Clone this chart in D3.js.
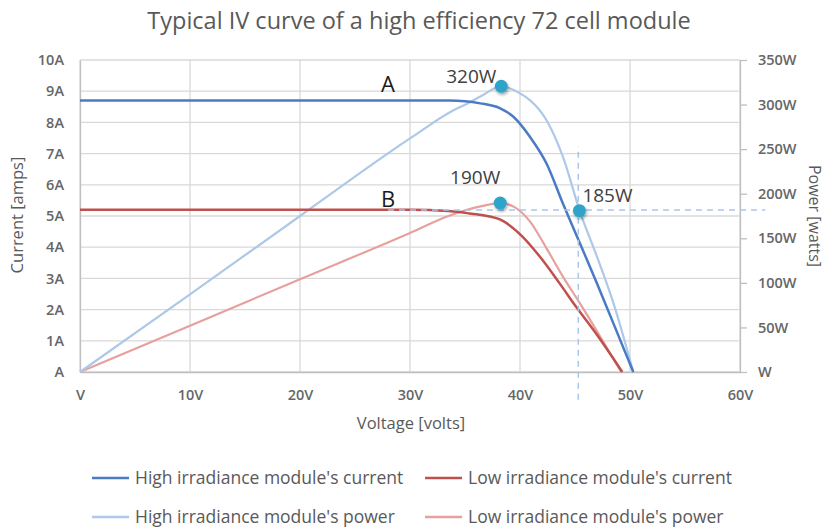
<!DOCTYPE html>
<html>
<head>
<meta charset="utf-8">
<script src="https://cdn.jsdelivr.net/npm/d3@7"></script>
<style>
  body { margin: 0; background: #fff; }
  svg { display: block; font-family: "Open Sans", sans-serif; }
</style>
</head>
<body>
<div id="chart"></div>
<script>
// values: [volts, amps] or [volts, watts]
var hiCurrent = [[0,8.7],[10,8.7],[20,8.7],[30,8.7],[33.6,8.7],[35,8.68],[36.4,8.61],[38.2,8.45],[39.4,8.18],[40.9,7.54],[42.4,6.69],[43.9,5.4],[45.2,4.33],[47,2.84],[48.5,1.55],[50.3,0]];
var hiPower   = [[0,0],[10,87],[20,175],[30,262],[34,294],[35.2,301],[36.4,309],[38.3,320.5],[40,312.6],[40.9,305],[42.4,282.7],[43.9,241.5],[45.45,180],[47,129.3],[48.5,77],[50.3,0]];
var loCurrent = [[0,5.2],[10,5.2],[20,5.2],[30,5.2],[33.5,5.16],[35,5.1],[36.5,5.03],[38.4,4.85],[40.2,4.35],[41.8,3.7],[43.6,2.84],[45.1,2.09],[46.9,1.24],[49.3,0]];
var loPower   = [[0,0],[10,52],[20,104],[30,156],[33.5,175],[36.5,186],[38.2,189.5],[39.5,185],[40.9,169],[42.4,139],[43.9,107],[45.45,77],[47.3,39.6],[49.2,0]];

var voltTicks = [0,10,20,30,40,50,60];
var ampTicks = [0,1,2,3,4,5,6,7,8,9,10];
var wattTicks = [0,50,100,150,200,250,300,350];

var peaks = [[38.3,320.5,"320W"],[38.2,189.5,"190W"],[45.4,181,"185W"]];
var refH = [[28,181.7],[62.3,181.7]];
var refV = [[45.3,-31],[45.3,253]];
var letters = [[28,8.97,"A"],[28,5.29,"B"]];

var seriesNames = ["High irradiance module's current","Low irradiance module's current","High irradiance module's power","Low irradiance module's power"];

var W = 825, H = 527;
var pLeft = 80, pRight = 740, pTop = 60, pBottom = 372;
var grey = "#595959";

var svg = d3.select("#chart").append("svg")
  .attr("width", W)
  .attr("height", H);

var x = d3.scaleLinear().domain([0,60]).range([pLeft,pRight]);
var yA = d3.scaleLinear().domain([0,10]).range([pBottom,pTop]);
var yP = d3.scaleLinear().domain([0,350]).range([pBottom,pTop]);

var defs = svg.append("defs");
defs.append("filter").attr("id","shadow")
  .attr("x","-50%").attr("y","-50%").attr("width","200%").attr("height","200%")
  .append("feDropShadow")
  .attr("dx",1).attr("dy",2).attr("stdDeviation",1.5)
  .attr("flood-color","#000").attr("flood-opacity",0.35);

/* title */
svg.append("text")
  .attr("x", 419).attr("y", 29)
  .attr("text-anchor","middle")
  .style("font-size","23.5px")
  .style("fill",grey)
  .text("Typical IV curve of a high efficiency 72 cell module");

/* grid */
var grid = svg.append("g").attr("stroke","#d9d9d9").attr("stroke-width",1.3);
grid.selectAll(".hg").data(ampTicks).enter().append("line")
  .attr("x1", pLeft).attr("x2", pRight)
  .attr("y1", d => yA(d)).attr("y2", d => yA(d));
grid.selectAll(".vg").data(voltTicks).enter().append("line")
  .attr("y1", pTop).attr("y2", pBottom)
  .attr("x1", d => x(d)).attr("x2", d => x(d));

/* axes */
var xAxis = d3.axisBottom(x).tickValues(voltTicks).tickSize(0).tickPadding(18)
  .tickFormat(d => d === 0 ? "V" : d + "V");
var yAxis = d3.axisLeft(yA).tickValues(ampTicks).tickSize(0).tickPadding(16)
  .tickFormat(d => d === 0 ? "A" : d + "A");
var pAxis = d3.axisRight(yP).tickValues(wattTicks).tickSizeInner(7).tickSizeOuter(0).tickPadding(11)
  .tickFormat(d => d === 0 ? "W" : d + "W");

svg.append("g").attr("transform", `translate(0,${pBottom})`).call(xAxis);
svg.append("g").attr("transform", `translate(${pLeft},0)`).call(yAxis);
svg.append("g").attr("transform", `translate(${pRight},0)`).call(pAxis);

svg.selectAll(".domain").attr("stroke","#bfbfbf").attr("stroke-width",1.3);
svg.selectAll(".tick line").attr("stroke","#bfbfbf").attr("stroke-width",1.3);
svg.selectAll(".tick text")
  .style("font-size","14.5px")
  .style("font-weight","600")
  .style("font-family","'Open Sans', sans-serif")
  .attr("fill","#666");

/* axis titles */
svg.append("text")
  .attr("transform","translate(23,215) rotate(-90)")
  .attr("text-anchor","middle")
  .style("font-size","16.5px").style("fill",grey)
  .text("Current [amps]");
svg.append("text")
  .attr("transform","translate(809,216) rotate(90)")
  .attr("text-anchor","middle")
  .style("font-size","16px").style("fill",grey)
  .text("Power [watts]");
svg.append("text")
  .attr("x",411).attr("y",429)
  .attr("text-anchor","middle")
  .style("font-size","16.5px").style("fill",grey)
  .text("Voltage [volts]");

/* curves */
var colors = ["#4a7bc4","#c0504d","#adc8e8","#e6a19f"];
var ampLine = d3.line().x(d => x(d[0])).y(d => yA(d[1])).curve(d3.curveMonotoneX);
var wattLine = d3.line().x(d => x(d[0])).y(d => yP(d[1])).curve(d3.curveMonotoneX);

var curves = [
  {data: loPower, gen: wattLine, c: colors[3], w: 2.2},
  {data: hiPower, gen: wattLine, c: colors[2], w: 2.2},
  {data: loCurrent, gen: ampLine, c: colors[1], w: 2.5},
  {data: hiCurrent, gen: ampLine, c: colors[0], w: 2.5}
];
svg.append("g").selectAll("path").data(curves).enter().append("path")
  .attr("d", d => d.gen(d.data))
  .attr("fill","none")
  .attr("stroke", d => d.c)
  .attr("stroke-width", d => d.w)
  .attr("stroke-linejoin","round");

/* dashed reference lines */
var refLine = d3.line().x(d => x(d[0])).y(d => yP(d[1]));
svg.append("g").selectAll("path").data([refH, refV]).enter().append("path")
  .attr("d", d => refLine(d))
  .attr("fill","none")
  .attr("stroke","#a9c6ea")
  .attr("stroke-width",1.5)
  .attr("stroke-dasharray","6,5");

/* A / B */
svg.append("g").selectAll("text").data(letters).enter().append("text")
  .attr("x", d => x(d[0])).attr("y", d => yA(d[1]))
  .attr("text-anchor","middle")
  .style("font-size","22px").style("fill","#1a1a1a")
  .text(d => d[2]);

/* peak markers */
var lblDx = [-5, 0, 3], lblDy = [-3.5, -19, -9], lblAnchor = ["end","end","start"];
svg.append("g").selectAll("circle").data(peaks).enter().append("circle")
  .attr("cx", d => x(d[0])).attr("cy", d => yP(d[1]))
  .attr("r", 6.5)
  .attr("fill","#2fa4c8")
  .attr("filter","url(#shadow)");
svg.append("g").selectAll("text").data(peaks).enter().append("text")
  .attr("x", (d,i) => x(d[0]) + lblDx[i])
  .attr("y", (d,i) => yP(d[1]) + lblDy[i])
  .attr("text-anchor", (d,i) => lblAnchor[i])
  .style("font-size","19px").style("fill","#404040")
  .text(d => d[2]);

/* legend */
var legX = [92, 425], legY = [478, 517];
var leg = svg.append("g").selectAll("g").data(seriesNames).enter().append("g")
  .attr("transform", (d,i) => `translate(${legX[i % 2]},${legY[Math.floor(i / 2)]})`);
leg.append("line")
  .attr("x1",0).attr("x2",37).attr("y1",0).attr("y2",0)
  .attr("stroke", (d,i) => colors[i])
  .attr("stroke-width",2.5);
leg.append("text")
  .attr("x",43).attr("dy","0.35em")
  .style("font-size","17.5px").style("fill",grey)
  .text(d => d);
</script>
</body>
</html>
